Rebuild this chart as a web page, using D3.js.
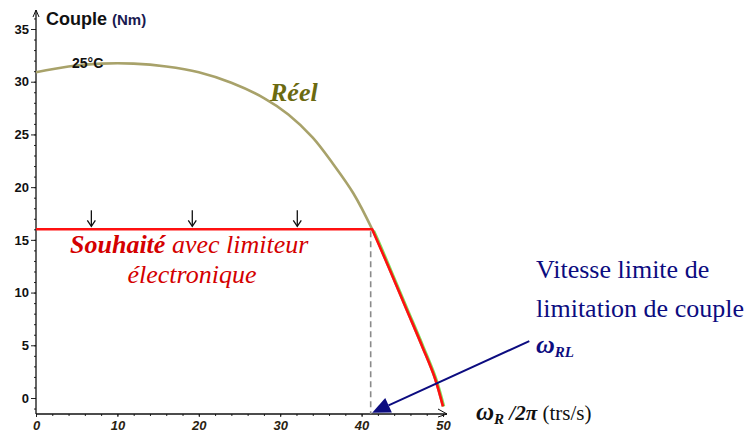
<!DOCTYPE html>
<html>
<head>
<meta charset="utf-8">
<script src="https://cdn.jsdelivr.net/npm/d3@7"></script>
<style>
  body { margin: 0; background: #fff; }
  svg { display: block; }
  .serif { font-family: 'Liberation Serif', 'Times New Roman', serif; }
  .sans { font-family: 'Liberation Sans', Arial, sans-serif; }
</style>
</head>
<body>
<div id="wrapper"></div>
<script>
const curveSpeed  = [0, 4, 8, 12, 16, 20, 24, 28, 31, 34, 36.5, 39, 41.3, 43.5, 45.5, 47.5, 49, 50];
const curveTorque = [30.9, 31.45, 31.72, 31.72, 31.45, 30.9, 29.9, 28.45, 26.9, 24.7, 22.2, 19.4, 16.0, 12.1, 8.45, 4.8, 1.9, -0.8];

// wished torque with electronic limiter
const limitTorque = 16;
const limitSpeed = 41.3;
const arrowSpeeds = [6.8, 19.2, 32.1];

const yTicks = [0, 5, 10, 15, 20, 25, 30, 35];
const xTicks = [0, 10, 20, 30, 40, 50];

function draw() {
  const width = 752, height = 437;

  const wrapper = d3.select("#wrapper")
    .append("svg")
    .attr("width", width)
    .attr("height", height);

  const xScaler = d3.scaleLinear().domain([0, 50]).range([36, 443]);
  const yScaler = d3.scaleLinear().domain([0, 35]).range([398, 29]);

  const axisBottomY = 414;
  const axisTopY = 10;
  const axisRightX = 447;

  // y axis: minor ticks every 1, major every 5
  const yMinor = wrapper.append("g")
    .attr("transform", `translate(${xScaler(0)},0)`)
    .call(d3.axisLeft(yScaler).tickValues(d3.range(-1, 37, 1)).tickSize(2).tickFormat(""));
  yMinor.select(".domain").remove();
  yMinor.selectAll("line").attr("stroke", "#222");

  const yMajor = wrapper.append("g")
    .attr("transform", `translate(${xScaler(0)},0)`)
    .call(d3.axisLeft(yScaler).tickValues(yTicks).tickSize(5).tickPadding(2));
  yMajor.select(".domain").remove();
  yMajor.selectAll("line").attr("stroke", "#222");
  yMajor.selectAll("text")
    .attr("class", "sans")
    .style("font-size", "13px")
    .style("font-weight", "bold")
    .attr("fill", "#111");

  // x axis: minor ticks every 2, major every 10
  const xMinor = wrapper.append("g")
    .attr("transform", `translate(0,${axisBottomY})`)
    .call(d3.axisBottom(xScaler).tickValues(d3.range(0, 51, 2)).tickSize(2).tickFormat(""));
  xMinor.select(".domain").remove();
  xMinor.selectAll("line").attr("stroke", "#222");

  const xMajor = wrapper.append("g")
    .attr("transform", `translate(0,${axisBottomY})`)
    .call(d3.axisBottom(xScaler).tickValues(xTicks).tickSize(3).tickPadding(4));
  xMajor.select(".domain").remove();
  xMajor.selectAll("line").attr("stroke", "#222");
  xMajor.selectAll("text")
    .attr("class", "sans")
    .style("font-size", "13px")
    .style("font-weight", "bold")
    .style("font-style", "italic")
    .attr("fill", "#2a2210");

  // axis lines with open arrow heads
  wrapper.append("line")
    .attr("x1", xScaler(0)).attr("x2", xScaler(0))
    .attr("y1", axisBottomY).attr("y2", axisTopY)
    .attr("stroke", "#111").attr("stroke-width", 1.3);
  wrapper.append("path")
    .attr("d", `M${xScaler(0) - 3},${axisTopY + 7} L${xScaler(0)},${axisTopY} L${xScaler(0) + 3},${axisTopY + 7}`)
    .attr("fill", "none").attr("stroke", "#111");
  wrapper.append("line")
    .attr("x1", xScaler(0)).attr("x2", axisRightX)
    .attr("y1", axisBottomY).attr("y2", axisBottomY)
    .attr("stroke", "#111").attr("stroke-width", 1.3);
  wrapper.append("path")
    .attr("d", `M${axisRightX - 9},${axisBottomY - 5} L${axisRightX},${axisBottomY} L${axisRightX - 9},${axisBottomY + 3}`)
    .attr("fill", "none").attr("stroke", "#111");

  // axis titles
  const yTitle = wrapper.append("text")
    .attr("class", "sans")
    .attr("x", 46).attr("y", 25)
    .style("font-weight", "bold");
  yTitle.append("tspan").style("font-size", "18px").attr("fill", "#111").text("Couple ");
  yTitle.append("tspan").style("font-size", "15px").attr("fill", "#1a1a50").text("(Nm)");

  const xTitle = wrapper.append("text")
    .attr("class", "serif")
    .attr("x", 476).attr("y", 420)
    .attr("fill", "#111");
  xTitle.append("tspan").style("font-size", "25px").style("font-weight", "bold").style("font-style", "italic").text("ω");
  xTitle.append("tspan").style("font-size", "15px").style("font-weight", "bold").style("font-style", "italic").attr("dy", 4).text("R");
  xTitle.append("tspan").style("font-size", "21px").style("font-weight", "bold").style("font-style", "italic").attr("dy", -4).text(" /2π ");
  xTitle.append("tspan").style("font-size", "21px").text("(trs/s)");

  // real curve
  const curveData = curveSpeed.map((s, i) => ({ s, c: curveTorque[i] }));
  const lineGen = d3.line()
    .x(d => xScaler(d.s))
    .y(d => yScaler(d.c))
    .curve(d3.curveCatmullRom);

  wrapper.append("path")
    .datum(curveData)
    .attr("d", lineGen)
    .attr("fill", "none")
    .attr("stroke", "#a8a26a")
    .attr("stroke-width", 2.6);

  // light green edge visible under the red on the steep part
  const tailStart = curveData.findIndex(d => d.s >= limitSpeed);
  const tail = curveData.slice(tailStart);
  wrapper.append("clipPath").attr("id", "tailClip")
    .append("rect")
    .attr("x", xScaler(limitSpeed) - 6).attr("y", yScaler(limitTorque) + 1)
    .attr("width", 100).attr("height", 200);
  wrapper.append("path")
    .datum(curveData)
    .attr("d", lineGen)
    .attr("fill", "none")
    .attr("stroke", "#7ee05a")
    .attr("stroke-width", 2.6)
    .attr("clip-path", "url(#tailClip)")
    .attr("transform", "translate(1,0)");

  // dashed line down to the speed limit
  wrapper.append("line")
    .attr("x1", xScaler(limitSpeed) - 1.5).attr("x2", xScaler(limitSpeed) - 1.5)
    .attr("y1", yScaler(limitTorque) + 2).attr("y2", axisBottomY)
    .attr("stroke", "#8a8a8a")
    .attr("stroke-width", 1.6)
    .attr("stroke-dasharray", "6 4");

  // wished (limited) curve: plateau then along the real curve
  const plateau = d3.line()
    .x(d => xScaler(d.s))
    .y(d => yScaler(d.c))([{ s: 0, c: limitTorque }, { s: limitSpeed, c: limitTorque }]);
  wrapper.append("path")
    .attr("d", plateau + lineGen(tail).replace(/^M[^LC]*/, ""))
    .attr("fill", "none")
    .attr("stroke", "#ff1010")
    .attr("stroke-width", 2.6)
    .attr("stroke-linejoin", "round");

  // little down arrows on the plateau
  const arrowGroup = wrapper.append("g");
  arrowSpeeds.forEach(s => {
    const ax = xScaler(s);
    const ay = yScaler(limitTorque) - 3;
    arrowGroup.append("line")
      .attr("x1", ax).attr("x2", ax)
      .attr("y1", ay - 16).attr("y2", ay)
      .attr("stroke", "#111").attr("stroke-width", 1.3);
    arrowGroup.append("path")
      .attr("d", `M${ax - 4},${ay - 6} L${ax},${ay} L${ax + 4},${ay - 6}`)
      .attr("fill", "none").attr("stroke", "#111").attr("stroke-width", 1.3);
  });

  // labels
  wrapper.append("text")
    .attr("class", "sans")
    .attr("x", 72).attr("y", 68)
    .style("font-size", "14px").style("font-weight", "bold").attr("fill", "#111")
    .text("25°C");

  wrapper.append("text")
    .attr("class", "serif")
    .attr("x", 270).attr("y", 101)
    .style("font-size", "26px").style("font-weight", "bold").style("font-style", "italic")
    .attr("fill", "#6b6a10")
    .text("Réel");

  const souhait = wrapper.append("text")
    .attr("class", "serif")
    .attr("x", 70).attr("y", 253)
    .style("font-size", "26px").style("font-style", "italic")
    .attr("fill", "#d40000");
  souhait.append("tspan").style("font-weight", "bold").text("Souhaité");
  souhait.append("tspan").text(" avec limiteur");
  wrapper.append("text")
    .attr("class", "serif")
    .attr("x", 192).attr("y", 283)
    .attr("text-anchor", "middle")
    .style("font-size", "26px").style("font-style", "italic")
    .attr("fill", "#d40000")
    .text("électronique");

  // speed-limit annotation
  const note = wrapper.append("g").attr("fill", "#0c0c80");
  note.append("text").attr("class", "serif").attr("x", 536).attr("y", 278).style("font-size", "26px").text("Vitesse limite de");
  note.append("text").attr("class", "serif").attr("x", 536).attr("y", 317).style("font-size", "26px").text("limitation de couple");
  const wrl = note.append("text").attr("class", "serif").attr("x", 536).attr("y", 353)
    .style("font-weight", "bold").style("font-style", "italic");
  wrl.append("tspan").style("font-size", "26px").text("ω");
  wrl.append("tspan").style("font-size", "15px").attr("dy", 4).text("RL");

  const fromPt = [xScaler(60.6), yScaler(5.4)];
  const toPt = [xScaler(limitSpeed), yScaler(-1.4)];
  const ang = Math.atan2(toPt[1] - fromPt[1], toPt[0] - fromPt[0]);
  const headLen = 18, headW = 8;
  const baseX = toPt[0] - headLen * Math.cos(ang);
  const baseY = toPt[1] - headLen * Math.sin(ang);
  wrapper.append("line")
    .attr("x1", fromPt[0]).attr("y1", fromPt[1])
    .attr("x2", baseX).attr("y2", baseY)
    .attr("stroke", "#0c0c80").attr("stroke-width", 2);
  wrapper.append("path")
    .attr("d", `M${toPt[0]},${toPt[1]}
      L${baseX + headW * Math.sin(ang)},${baseY - headW * Math.cos(ang)}
      L${baseX - headW * Math.sin(ang)},${baseY + headW * Math.cos(ang)} Z`)
    .attr("fill", "#0c0c80");
}
draw();
</script>
</body>
</html>
